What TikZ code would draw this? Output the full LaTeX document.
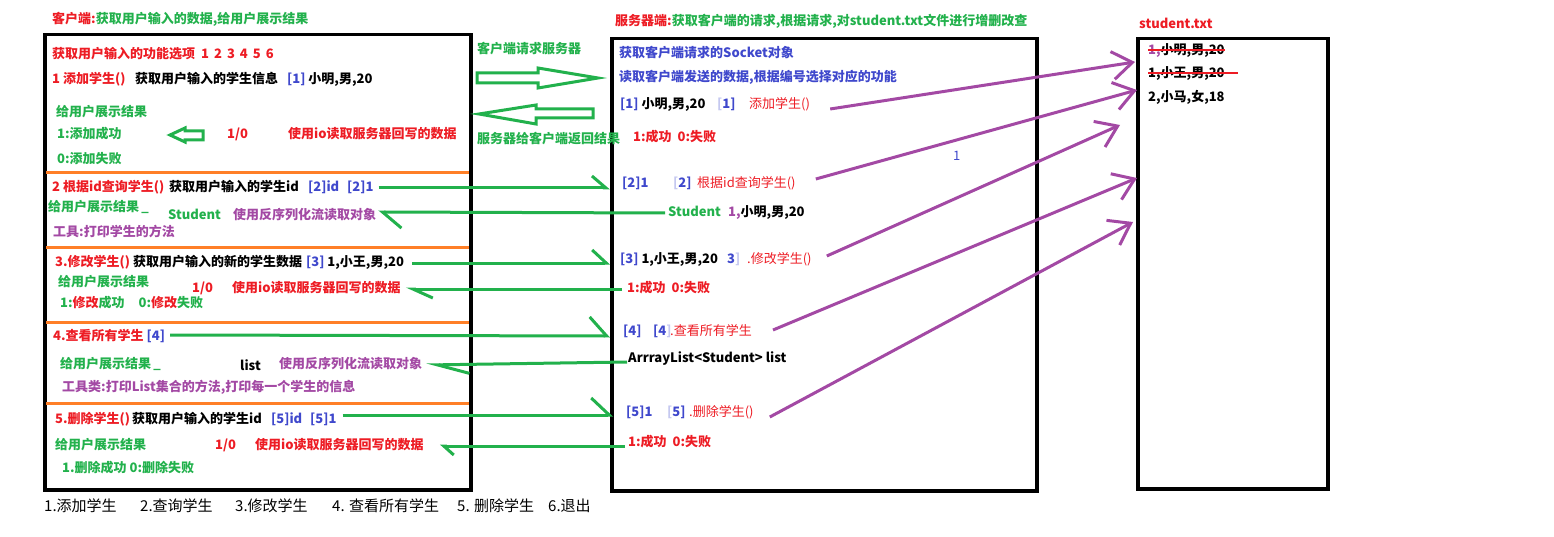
\documentclass[tikz,border=0pt]{standalone}
\usepackage{fontspec}
\setmainfont{Noto Sans CJK SC}
\usepackage{tikz}
\usetikzlibrary{arrows.meta,calc}
\definecolor{cred}{HTML}{ED1C24}
\definecolor{cgreen}{HTML}{22B14C}
\definecolor{cpurple}{HTML}{A349A4}
\definecolor{cblue}{HTML}{3F48CC}
\definecolor{corange}{HTML}{FF7F27}

\begin{document}
\begin{tikzpicture}[
  x=1pt, y=-1pt,
  lbl/.style={anchor=west, inner sep=0pt, text height=0.88em, text depth=0.12em, font=\bfseries\fontsize{13}{13}\selectfont, text=#1},
  lbl/.default=black,
  thin/.style={font=\mdseries\fontsize{13}{13}\selectfont},
  menu/.style={anchor=west, inner sep=0pt, text height=0.88em, text depth=0.12em, font=\mdseries\fontsize{15}{15}\selectfont},
  frame/.style={draw, line width=3.5pt, anchor=north west, inner sep=0pt},
  sep/.style={corange, line width=3pt},
  garr/.style 2 args={cgreen, line width=3pt, -{Straight Barb[left, length=#1pt, width=#2pt]}},
  parr/.style={cpurple, line width=3pt, -{Straight Barb[length=20pt, width=28pt]}},
  hollow/.style={cgreen, line width=3pt, line join=miter},
  strike/.style={cred, line width=1.2pt}
]
\useasboundingbox (0,0) rectangle (1554,537);

\node[frame, minimum width=426pt, minimum height=455pt] (client) at (43,33) {};
\node[frame, minimum width=425pt, minimum height=452pt] (server) at (610,37) {};
\node[frame, minimum width=190pt, minimum height=450pt] (file) at (1136,37) {};
\foreach \y in {173,248,322,403}
  \draw[sep] (46,\y) -- (469,\y);

\node[lbl=cred] (ct) at (52,20) {客户端:\textcolor{cgreen}{获取用户输入的数据,给用户展示结果}};
\node[lbl=cred] (st) at (615,22) {服务器端:\textcolor{cgreen}{获取客户端的请求,根据请求,对student.txt文件进行增删改查}};
\node[lbl=cred] (ft) at (1139,25) {student.txt};

\node[lbl=cred] (opts) at (52,55) {获取用户输入的功能选项\hspace{6pt}1\hspace{5pt}2\hspace{5pt}3\hspace{5pt}4\hspace{5pt}5\hspace{5pt}6};
\node[lbl=cred] (add) at (52,80) {1 添加学生()};
\node[lbl] (addin) at (135,80) {获取用户输入的学生信息};
\node[lbl] (addval) at (287,80) {\textcolor{cblue}{[1]} 小明,男,20};
\node[lbl=cgreen] (show1) at (56,113) {给用户展示结果};
\node[lbl=cgreen] (ok1) at (57,135) {1:添加成功};
\node[lbl=cred] (r1) at (227,135) {1/0};
\node[lbl=cred] (io1) at (288,135) {使用io读取服务器回写的数据};
\node[lbl=cgreen] (fail1) at (57,160) {0:添加失败};
\draw[hollow] (170,135) -- (185,128) -- (185,131) -- (203,131) -- (203,140) -- (185,140) -- (185,142) -- cycle;

\node[lbl=cred] (find) at (52,188) {2 根据id查询学生()};
\node[lbl] (findin) at (169,188) {获取用户输入的学生id};
\node[lbl=cblue] (fid) at (308,188) {[2]id};
\node[lbl=cblue] (fval) at (347,188) {[2]1};
\node[lbl=cgreen] (show2) at (48,208) {给用户展示结果\,\_};
\node[lbl=cgreen] (stu) at (168,216) {Student};
\node[lbl=cpurple] (ois2) at (233,216) {使用反序列化流读取对象};
\node[lbl=cpurple] (tool2) at (53,233) {工具:打印学生的方法};

\node[lbl=cred] (upd) at (55,263) {3.修改学生()};
\node[lbl] (updin) at (133,263) {获取用户输入的新的学生数据};
\node[lbl] (uval) at (306,263) {\textcolor{cblue}{[3]} 1,小王,男,20};
\node[lbl=cgreen] (show3) at (58,283) {给用户展示结果};
\node[lbl=cred] (r3) at (192,289) {1/0};
\node[lbl=cred] (io3) at (232,289) {使用io读取服务器回写的数据};
\node[lbl=cgreen] (ok3) at (60,304) {1:\textcolor{cred}{修改}成功\hspace{14pt}0:\textcolor{cred}{修改}失败};

\node[lbl=cred] (all) at (53,337) {4.查看所有学生 \textcolor{cblue}{[4]}};
\node[lbl=cgreen] (show4) at (60,365) {给用户展示结果\,\_};
\node[lbl] (lst) at (240,367) {list};
\node[lbl=cpurple] (ois4) at (279,365) {使用反序列化流读取对象};
\node[lbl=cpurple] (tool4) at (62,388) {工具类:打印List集合的方法,打印每一个学生的信息};

\node[lbl=cred] (del) at (55,420) {5.删除学生()};
\node[lbl] (delin) at (132,420) {获取用户输入的学生id};
\node[lbl=cblue] (did) at (271,420) {[5]id};
\node[lbl=cblue] (dval) at (310,420) {[5]1};
\node[lbl=cgreen] (show5) at (55,446) {给用户展示结果};
\node[lbl=cred] (r5) at (215,446) {1/0};
\node[lbl=cred] (io5) at (255,446) {使用io读取服务器回写的数据};
\node[lbl=cgreen] (ok5) at (62,469) {1.删除成功 0:删除失败};

\node[menu] (k1) at (44,508) {1.添加学生};
\node[menu] (k2) at (140,508) {2.查询学生};
\node[menu] (k3) at (235,508) {3.修改学生};
\node[menu] (k4) at (332,508) {4. 查看所有学生};
\node[menu] (k5) at (457,508) {5. 删除学生};
\node[menu] (k6) at (548,508) {6.退出};

\node[lbl=cgreen] (req) at (477,50) {客户端请求服务器};
\node[lbl=cgreen] (resp) at (477,140) {服务器给客户端返回结果};
\draw[hollow] (477,73) -- (538,73) -- (538,68) -- (598,78) -- (538,88) -- (538,83) -- (477,83) -- cycle;
\draw[hollow] (479,114) -- (536,105) -- (536,109) -- (593,109) -- (593,118) -- (536,118) -- (536,124) -- cycle;

\node[lbl=cblue] (sock) at (619,54) {获取客户端请求的Socket对象};
\node[lbl=cblue] (rd) at (619,78) {读取客户端发送的数据,根据编号选择对应的功能};
\node[lbl] (m1) at (620,105) {\textcolor{cblue}{[1]} 小明,男,20};
\node[lbl=cblue] (c1) at (717,105) {\textcolor{cblue!30}{[}1]};
\node[lbl=cred, thin] (addf) at (749,105) {添加学生()};
\node[lbl=cred] (res1) at (633,138) {1:成功\ \ 0:失败};

\node[lbl=cblue] (m2) at (622,184) {[2]1};
\node[lbl=cblue] (c2) at (673,184) {\textcolor{cblue!30}{[}2]};
\node[lbl=cred, thin] (findf) at (697,184) {根据id查询学生()};
\node[lbl=cgreen] (mstu) at (668,213) {Student};
\node[lbl] (mstuv) at (728,213) {\textcolor{cpurple}{1,}小明,男,20};

\node[lbl] (m3) at (620,260) {\textcolor{cblue}{[3]} 1,小王,男,20};
\node[lbl=cblue] (c3) at (727,260) {3\textcolor{cblue!30}{]}};
\node[lbl=cred, thin] (updf) at (747,260) {.修改学生()};
\node[lbl=cred] (res3) at (627,289) {1:成功\ \ 0:失败};

\node[lbl=cblue] (m4) at (623,332) {[4]};
\node[lbl=cblue] (c4) at (653,332) {[4\textcolor{cblue!30}{]}};
\node[lbl=cred, thin] (allf) at (670,332) {.查看所有学生};
\node[lbl] (mlst) at (628,359) {ArrrayList<Student> list};

\node[lbl=cblue] (m5) at (626,413) {[5]1};
\node[lbl=cblue] (c5) at (667,413) {\textcolor{cblue!30}{[}5]};
\node[lbl=cred, thin] (delf) at (689,413) {.删除学生()};
\node[lbl=cred] (res5) at (628,443) {1:成功\ \ 0:失败};

\node[lbl=cblue, thin] (one) at (953,157) {1};

\node[lbl] (e1) at (1148,51) {\textcolor{cpurple}{1,}小明,男,20};
\node[lbl] (e2) at (1148,74) {1,小王,男,20};
\node[lbl] (e3) at (1148,98) {2,小马,女,18};
\draw[strike] ($(e1.west)+(0,-1)$) -- ($(e1.east)+(0,-1)$);
\draw[strike] ($(e2.west)+(0,-1)$) -- ($(e2.east)+(13,-1)$);

\coordinate (p1) at (1135,62);
\coordinate (p2) at (1137,90);
\coordinate (p3) at (1120,125);
\coordinate (p4) at (1137,178);
\coordinate (p5) at (1133,222);
\draw[parr] ($(addf.east)+(20,4)$) -- (p1);
\draw[parr] ($(findf.east)+(20,-5)$) -- (p2);
\draw[parr] ($(updf.east)+(15,-4)$) -- (p3);
\draw[parr] ($(allf.east)+(21,-2)$) -- (p4);
\draw[parr] ($(delf.east)+(16,4)$) -- (p5);

\draw[garr={14}{24}] ($(fval.east)+(5,0)$) -- (fval.east -| server.west);
\draw[garr={19}{32}] ($(mstu.west)+(-3,0)$) -- ($(ois2.east)+(2,-4)$);
\draw[garr={14}{26}] ($(uval.east)+(8,0)$) -- (uval.east -| server.west);
\draw[garr={20}{18}] ($(res3.west)+(-5,0)$) -- ($(io3.east)+(5,0)$);
\draw[garr={17}{38}] ($(all.east)+(5,-2)$) -- ($(all.east -| server.west)+(0,-1)$);
\draw[garr={32}{18}] ($(mlst.west)+(-1,3)$) -- ($(ois4.east)+(4,0)$);
\draw[garr={18}{34}] ($(dval.east)+(6,-5)$) -- ($(dval.east -| server.west)+(3,-5)$);
\draw[garr={10}{18}] ($(res5.west)+(-3,3)$) -- ($(io5.east)+(16,0)$);
\end{tikzpicture}
\end{document}
